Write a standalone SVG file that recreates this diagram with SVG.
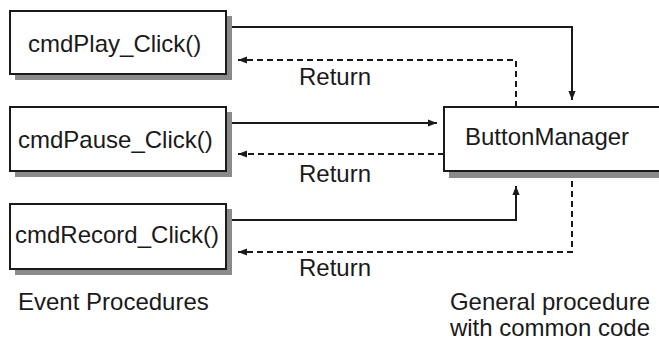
<svg xmlns="http://www.w3.org/2000/svg" width="659" height="343" viewBox="0 0 659 343">
<style>
text{font-family:"Liberation Sans",Arial,sans-serif;font-size:24px;fill:#1a1a1a}
.box{fill:#fff;stroke:#1a1a1a;stroke-width:2}
.sh{fill:#8a8a8a}
.ln{fill:none;stroke:#1a1a1a;stroke-width:2}
.ds{fill:none;stroke:#1a1a1a;stroke-width:2;stroke-dasharray:6 4}
</style>
<defs>
<marker id="ah" viewBox="0 0 10 10" refX="10" refY="5" markerWidth="9" markerHeight="9" markerUnits="userSpaceOnUse" orient="auto">
<path d="M0,1 L10,5 L0,9 z" fill="#1a1a1a"/>
</marker>
</defs>
<rect width="659" height="343" fill="#fff"/>
<g id="connectors">
<path class="ln" d="M226,27 H572 V100" marker-end="url(#ah)"/>
<path class="ds" d="M516,107 V60 H238" marker-end="url(#ah)"/>
<path class="ln" d="M226,123 H437" marker-end="url(#ah)"/>
<path class="ds" d="M444,154 H238" marker-end="url(#ah)"/>
<path class="ln" d="M226,220 H516 V186" marker-end="url(#ah)"/>
<path class="ds" d="M572,171 V252 H238" marker-end="url(#ah)"/>
<text x="299" y="85">Return</text>
<text x="299" y="182">Return</text>
<text x="299" y="276">Return</text>
</g>
<g id="cmdPlay">
<rect class="sh" x="15" y="16" width="217" height="64"/>
<rect class="box" x="10" y="11" width="216" height="63"/>
<text x="28" y="52">cmdPlay_Click()</text>
</g>
<g id="cmdPause">
<rect class="sh" x="15" y="112" width="217" height="65"/>
<rect class="box" x="10" y="107" width="216" height="64"/>
<text x="18" y="148">cmdPause_Click()</text>
</g>
<g id="cmdRecord">
<rect class="sh" x="15" y="209" width="217" height="66"/>
<rect class="box" x="10" y="204" width="216" height="65"/>
<text x="15" y="243">cmdRecord_Click()</text>
</g>
<g id="buttonManager">
<rect class="sh" x="449" y="112" width="215" height="66"/>
<rect class="box" x="444" y="107" width="220" height="64"/>
<text x="465" y="145">ButtonManager</text>
</g>
<g id="labels">
<text x="18" y="310">Event Procedures</text>
<text x="650" y="310" text-anchor="end">General procedure</text>
<text x="650" y="336" text-anchor="end">with common code</text>
</g>
</svg>
